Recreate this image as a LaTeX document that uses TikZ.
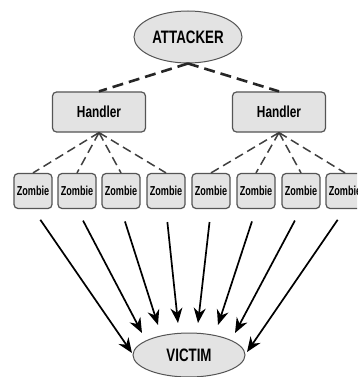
\documentclass[tikz,border=0pt]{standalone}
\usepackage{fontspec}
\newfontfamily\lab{Liberation Sans}[FakeStretch=0.74]
\newfontfamily\zlab{Liberation Sans}[FakeStretch=0.70]
\usetikzlibrary{shapes.geometric,arrows.meta}
\definecolor{boxfill}{HTML}{E3E3E3}
\definecolor{boxline}{HTML}{555555}
\begin{document}
\begin{tikzpicture}[x=1pt,y=-1pt,
  oval/.style={ellipse,draw=boxline,fill=boxfill,line width=1pt,inner sep=0pt,font=\lab\bfseries\fontsize{18}{20}\selectfont},
  hbox/.style={rectangle,rounded corners=4pt,draw=boxline,fill=boxfill,line width=1.2pt,minimum width=93pt,minimum height=40pt,inner sep=0pt,font=\lab\bfseries\fontsize{16}{18}\selectfont},
  zbox/.style={rectangle,rounded corners=4pt,draw=boxline,fill=boxfill,line width=1.2pt,minimum width=38pt,minimum height=35pt,inner sep=0pt,font=\zlab\bfseries\fontsize{13}{15}\selectfont},
  topdash/.style={line width=2.6pt,dash pattern=on 11pt off 6pt,black!85},
  lowdash/.style={line width=1.5pt,dash pattern=on 9pt off 5pt,black!75},
  hit/.style={line width=1.7pt,-{Stealth[length=15pt,width=12pt]},shorten <=13pt}
]
\useasboundingbox (0,0) rectangle (357,377);
\clip (0,0) rectangle (357,377);
\fill[white] (0,0) rectangle (357,377);

\node[oval,minimum width=108pt,minimum height=52pt] (attacker) at (188,37) {ATTACKER};
\node[hbox] (h1) at (99,112) {Handler};
\node[hbox] (h2) at (279,112) {Handler};

\foreach \i/\x in {1/33,2/77,3/121,4/166,5/211,6/256,7/301,8/345}
  \node[zbox] (z\i) at (\x,191) {Zombie};

\node[oval,minimum width=112pt,minimum height=44pt] (victim) at (189,355) {VICTIM};

\draw[topdash] (attacker.south) -- (h1.north);
\draw[topdash] (attacker.south) -- (h2.north);

\foreach \i in {1,2,3,4} \draw[lowdash] (h1.south) -- (z\i.north);
\foreach \i in {5,6,7,8} \draw[lowdash] (h2.south) -- (z\i.north);

\coordinate (t1) at (132,353);
\coordinate (t2) at (142,333);
\coordinate (t3) at (158,325);
\coordinate (t4) at (178,323);
\coordinate (t5) at (198,323);
\coordinate (t6) at (218,325);
\coordinate (t7) at (235,333);
\coordinate (t8) at (247,352);

\foreach \i in {1,...,8} \draw[hit] (z\i.south) -- (t\i);
\end{tikzpicture}
\end{document}
